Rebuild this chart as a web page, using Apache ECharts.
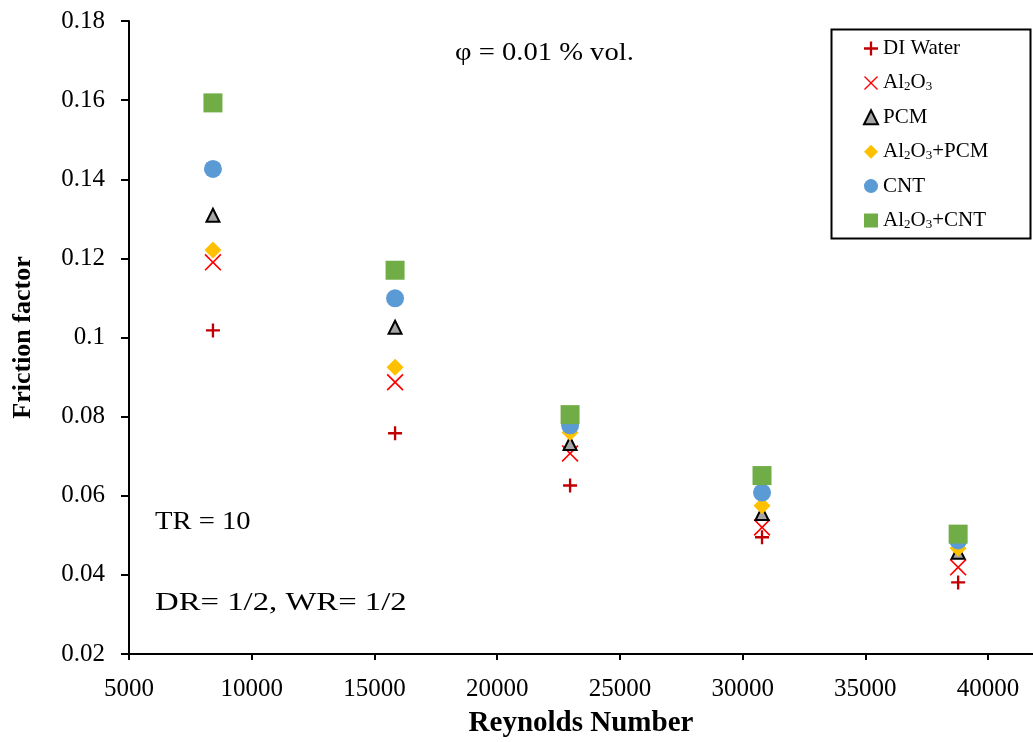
<!DOCTYPE html>
<html><head><meta charset="utf-8">
<script src="https://cdn.jsdelivr.net/npm/echarts@6/dist/echarts.min.js"></script>
<style>html,body{margin:0;padding:0;background:#fff}#c{width:1033px;height:742px}</style>
</head><body><div id="c"></div>
<script>
const reynolds = [8420, 15840, 22970, 30790, 38780];
const seriesNames = ['DI Water', 'Al2O3', 'PCM', 'Al2O3+PCM', 'CNT', 'Al2O3+CNT'];
const diWater   = [0.1018, 0.0758, 0.0626, 0.0495, 0.0381];
const al2o3     = [0.1190, 0.0887, 0.0707, 0.0520, 0.0419];
const pcm       = [0.1309, 0.1026, 0.0732, 0.0555, 0.0457];
const al2o3Pcm  = [0.1221, 0.0925, 0.0760, 0.0575, 0.0467];
const cnt       = [0.1426, 0.1099, 0.0778, 0.0608, 0.0487];
const al2o3Cnt  = [0.1593, 0.1170, 0.0805, 0.0651, 0.0503];
const xRange = [5000, 41830];
const xStep = 5000;
const yTicks = [0.02, 0.04, 0.06, 0.08, 0.1, 0.12, 0.14, 0.16, 0.18];

const FONT = '"Liberation Serif", "Times New Roman", serif';
const plusPath = 'path://M6,0 H8.4 V6 H14.4 V8.4 H8.4 V14.4 H6 V8.4 H0 V6 H6 Z';
const xPath = 'path://M7,0 L50,43 L93,0 L100,7 L57,50 L100,93 L93,100 L50,57 L7,100 L0,93 L43,50 L0,7 Z';

const allData = [diWater, al2o3, pcm, al2o3Pcm, cnt, al2o3Cnt];
const styles = [
  {symbol: plusPath, size: 14, item: {color: '#c00000'}},
  {symbol: xPath, size: 17, item: {color: '#ff0000'}},
  {symbol: 'triangle', size: 13, item: {color: '#a5a5a5', borderColor: '#000', borderWidth: 2}},
  {symbol: 'diamond', size: 17, item: {color: '#ffc000'}},
  {symbol: 'circle', size: 18, item: {color: '#5b9bd5'}},
  {symbol: 'rect', size: 19, item: {color: '#70ad47'}}
];

const series = seriesNames.map((n, i) => ({
  name: n,
  type: 'scatter',
  symbol: styles[i].symbol,
  symbolSize: styles[i].size,
  itemStyle: Object.assign({opacity: 1}, styles[i].item),
  data: reynolds.map((x, j) => [x, allData[i][j]])
}));

function fmtName(name) {
  return name.split('+').map(p => p === 'Al2O3' ? '{n|Al}{s|2}{n|O}{s|3}' : '{n|' + p + '}').join('{n|+}');
}

const chart = echarts.init(document.getElementById('c'));
chart.setOption({
  animation: false,
  backgroundColor: '#fff',
  grid: {left: 129, top: 21, right: 0, bottom: 88, containLabel: false, outerBoundsMode: 'none'},
  xAxis: {
    type: 'value', min: xRange[0], max: xRange[1], interval: xStep,
    name: 'Reynolds Number', nameLocation: 'middle', nameGap: 55,
    nameTextStyle: {fontFamily: FONT, fontSize: 29, fontWeight: 'bold', color: '#000'},
    axisLine: {lineStyle: {color: '#000', width: 2}},
    axisTick: {show: true, length: 6, lineStyle: {color: '#000', width: 2}},
    axisLabel: {fontFamily: FONT, fontSize: 25, color: '#000', margin: 23,
      showMaxLabel: false, formatter: v => String(v)},
    splitLine: {show: false}
  },
  yAxis: {
    type: 'value', min: yTicks[0], max: yTicks[yTicks.length - 1], interval: 0.02,
    name: 'Friction factor', nameLocation: 'middle', nameGap: 93, nameRotate: 90,
    nameTextStyle: {fontFamily: FONT, fontSize: 26, fontWeight: 'bold', color: '#000'},
    axisLine: {show: true, lineStyle: {color: '#000', width: 2}},
    axisTick: {show: true, length: 8, lineStyle: {color: '#000', width: 2}},
    axisLabel: {fontFamily: FONT, fontSize: 25, color: '#000', margin: 24,
      formatter: v => String(+v.toFixed(2))},
    splitLine: {show: false}
  },
  legend: {
    orient: 'vertical', left: 858, top: 33,
    itemWidth: 14, itemHeight: 14, itemGap: 13.4,
    data: seriesNames,
    formatter: fmtName,
    textStyle: {fontFamily: FONT, fontSize: 21, color: '#000',
      rich: {n: {fontFamily: FONT, fontSize: 21, lineHeight: 21, color: '#000'},
             s: {fontFamily: FONT, fontSize: 13, lineHeight: 13, verticalAlign: 'bottom', color: '#000'}}}
  },
  graphic: [
    {type: 'rect', left: 829, top: 27, shape: {width: 199, height: 209},
     style: {fill: 'none', stroke: '#000', lineWidth: 2}, z: 100},
    {type: 'text', x: 455, y: 53, scaleX: 1.1, style: {text: 'φ = 0.01 % vol.', font: '26px ' + FONT, fill: '#000', verticalAlign: 'middle'}},
    {type: 'text', x: 155, y: 522, scaleX: 1.1, style: {text: 'TR = 10', font: '26px ' + FONT, fill: '#000', verticalAlign: 'middle'}},
    {type: 'text', x: 155, y: 603, scaleX: 1.26, style: {text: 'DR= 1/2, WR= 1/2', font: '26px ' + FONT, fill: '#000', verticalAlign: 'middle'}}
  ],
  series: series
});
</script></body></html>
